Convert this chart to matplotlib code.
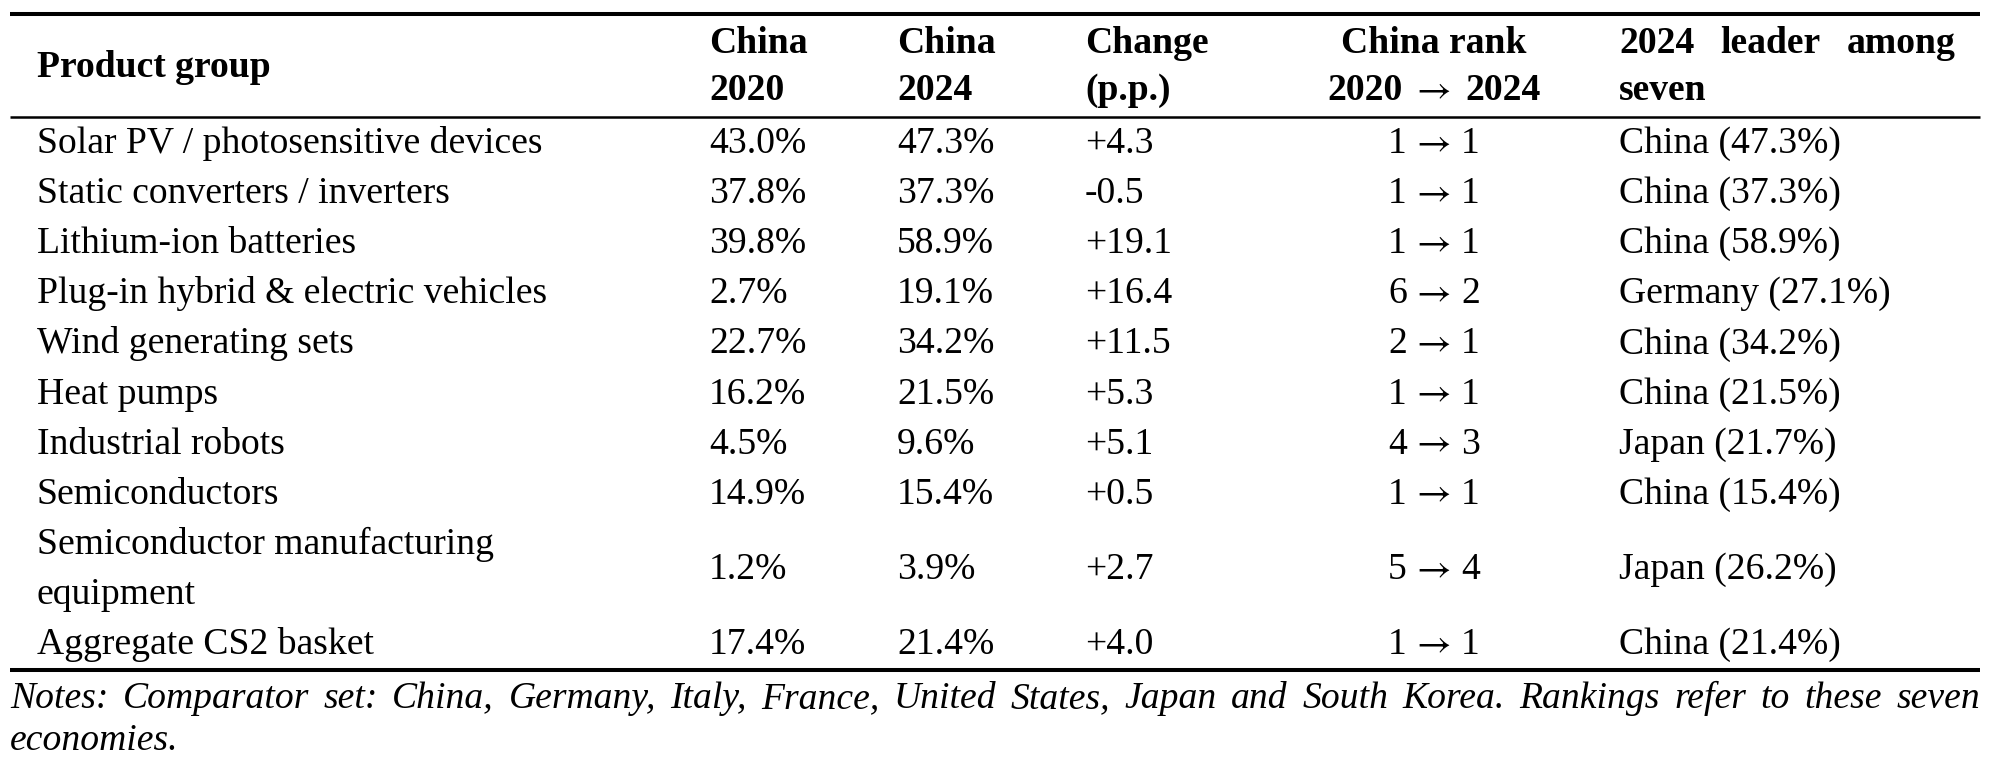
import matplotlib
matplotlib.use("Agg")
import matplotlib.pyplot as plt

# table data
products = [
    ["Solar PV / photosensitive devices"],
    ["Static converters / inverters"],
    ["Lithium-ion batteries"],
    ["Plug-in hybrid & electric vehicles"],
    ["Wind generating sets"],
    ["Heat pumps"],
    ["Industrial robots"],
    ["Semiconductors"],
    ["Semiconductor manufacturing", "equipment"],
    ["Aggregate CS2 basket"],
]
china_2020 = [43.0, 37.8, 39.8, 2.7, 22.7, 16.2, 4.5, 14.9, 1.2, 17.4]
china_2024 = [47.3, 37.3, 58.9, 19.1, 34.2, 21.5, 9.6, 15.4, 3.9, 21.4]
change_pp = [4.3, -0.5, 19.1, 16.4, 11.5, 5.3, 5.1, 0.5, 2.7, 4.0]
rank_2020 = [1, 1, 1, 6, 2, 1, 4, 1, 5, 1]
rank_2024 = [1, 1, 1, 2, 1, 1, 3, 1, 4, 1]
leader = ["China", "China", "China", "Germany", "China", "China", "Japan",
          "China", "Japan", "China"]
leader_share = [47.3, 37.3, 58.9, 27.1, 34.2, 21.5, 21.7, 15.4, 26.2, 21.4]

notes_line1 = ("Notes: Comparator set: China, Germany, Italy, France, United "
               "States, Japan and South Korea. Rankings refer to these seven")
notes_line2 = "economies."

W, H = 1996, 764
FONT = ["Liberation Serif", "DejaVu Serif"]
ARROW_FONT = ["STIXGeneral", "DejaVu Serif"]
FS = 27.1

fig = plt.figure(figsize=(W / 100, H / 100), dpi=100)
ax = fig.add_axes([0, 0, 1, 1])
ax.set_xlim(0, W)
ax.set_ylim(H, 0)
ax.axis("off")

col_x = [37, 709, 897, 1085, 1434, 1619]
right_x = 1956
left_rule, right_rule = 10, 1980


def txt(x, y, s, ha="left", weight="normal", style="normal", family=FONT):
    return ax.text(x, y, s, ha=ha, va="baseline", fontsize=FS, family=family,
                   fontweight=weight, fontstyle=style, color="black")


def rank_text(cx, y, a, b, weight="normal", off=27):
    # number, arrow, number - arrow taken from a Times-like font
    txt(cx - off, y, str(a), ha="right", weight=weight)
    txt(cx, y, "\u2192", ha="center", family=ARROW_FONT)
    txt(cx + off, y, str(b), ha="left", weight=weight)


def justify(words, x0, x1, y, **kw):
    items = [txt(x0, y, w, **kw) for w in words]
    fig.canvas.draw()
    r = fig.canvas.get_renderer()
    inv = ax.transData.inverted()
    widths = []
    for t in items:
        bb = t.get_window_extent(renderer=r)
        p0 = inv.transform((bb.x0, bb.y0))
        p1 = inv.transform((bb.x1, bb.y0))
        widths.append(p1[0] - p0[0])
    gap = (x1 - x0 - sum(widths)) / (len(words) - 1)
    x = x0
    for t, w in zip(items, widths):
        t.set_x(x)
        x += w + gap


# rules
ax.hlines(14, left_rule, right_rule, color="black", lw=2.9)
ax.hlines(117, left_rule, right_rule, color="black", lw=1.8)
ax.hlines(670, left_rule, right_rule, color="black", lw=2.9)

# header
h1, h2 = 53, 100
txt(col_x[0], 77, "Product group", weight="bold")
txt(col_x[1], h1, "China", weight="bold")
txt(col_x[1], h2, "2020", weight="bold")
txt(col_x[2], h1, "China", weight="bold")
txt(col_x[2], h2, "2024", weight="bold")
txt(col_x[3], h1, "Change", weight="bold")
txt(col_x[3], h2, "(p.p.)", weight="bold")
txt(col_x[4], h1, "China rank", ha="center", weight="bold")
rank_text(col_x[4], h2, 2020, 2024, weight="bold", off=31)
justify(["2024", "leader", "among"], col_x[5], right_x, h1, weight="bold")
txt(col_x[5], h2, "seven", weight="bold")

# body
base, pitch = 153, 50.1
line = 0
for i, name in enumerate(products):
    n = len(name)
    for k, part in enumerate(name):
        txt(col_x[0], base + pitch * (line + k), part)
    y = base + pitch * (line + (n - 1) / 2)
    txt(col_x[1], y, f"{china_2020[i]:.1f}%")
    txt(col_x[2], y, f"{china_2024[i]:.1f}%")
    txt(col_x[3], y, f"{change_pp[i]:+.1f}")
    rank_text(col_x[4], y, rank_2020[i], rank_2024[i])
    txt(col_x[5], y, f"{leader[i]} ({leader_share[i]:.1f}%)")
    line += n

# notes
justify(notes_line1.split(" "), left_rule, right_rule, 708, style="italic")
txt(left_rule, 750, notes_line2, style="italic")

fig.savefig("out.png", dpi=100, facecolor="white")
